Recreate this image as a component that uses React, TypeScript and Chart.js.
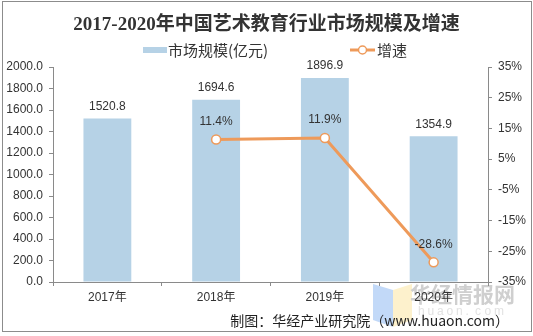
import React, { useEffect, useRef } from "react";
import { Chart, registerables } from "chart.js";

Chart.register(...registerables);

const categories = ["2017年", "2018年", "2019年", "2020年"];
const marketSize = [1520.8, 1694.6, 1896.9, 1354.9];
const growthRate: (number | null)[] = [null, 11.4, 11.9, -28.6];
const titleText = "2017-2020年中国艺术教育行业市场规模及增速";
const barLabel = "市场规模(亿元)";
const lineLabel = "增速";
const sourceText = "制图：华经产业研究院（www.huaon.com）";
const watermarkText = "华经情报网";
const watermarkUrl = "huaon.com";

const BAR_COLOR = "#b6d2e6";
const LINE_COLOR = "#ee9a5a";
const AXIS_COLOR = "#8a8a8a";
const TEXT_COLOR = "#333333";
const SANS = "'Liberation Sans', 'Noto Sans CJK SC', sans-serif";
const CJK = "'Noto Sans CJK SC', 'Liberation Sans', sans-serif";

const decorPlugin = {
  id: "decor",
  beforeDraw(chart: any) {
    const ctx = chart.ctx;
    ctx.save();
    ctx.fillStyle = "#ffffff";
    ctx.fillRect(0, 0, chart.width, chart.height);
    // watermark logo
    ctx.globalAlpha = 0.55;
    ctx.fillStyle = "#8fb9f2";
    ctx.beginPath();
    ctx.moveTo(373, 284);
    ctx.lineTo(393, 290);
    ctx.lineTo(393, 327);
    ctx.lineTo(373, 320);
    ctx.closePath();
    ctx.fill();
    ctx.fillStyle = "#fbe6a2";
    ctx.beginPath();
    ctx.moveTo(393, 290);
    ctx.lineTo(412, 284);
    ctx.lineTo(412, 320);
    ctx.lineTo(393, 327);
    ctx.closePath();
    ctx.fill();
    ctx.globalAlpha = 1;
    ctx.fillStyle = "#cfcfcf";
    ctx.font = "bold 21px " + CJK;
    ctx.textAlign = "left";
    ctx.textBaseline = "middle";
    ctx.fillText(watermarkText, 410, 294);
    ctx.fillStyle = "#e2e2e2";
    ctx.font = "12px " + SANS;
    const chars = watermarkUrl.split("");
    chars.forEach((c, i) => ctx.fillText(c, 418 + i * 9.5, 312));
    ctx.restore();
  },
  afterDatasetsDraw(chart: any) {
    const ctx = chart.ctx;
    ctx.save();
    ctx.font = "12px " + SANS;
    ctx.fillStyle = TEXT_COLOR;
    ctx.textAlign = "center";
    ctx.textBaseline = "middle";
    const barMeta = chart.getDatasetMeta(0);
    barMeta.data.forEach((el: any, i: number) => {
      ctx.fillText(marketSize[i].toFixed(1), el.x, el.y - 12);
    });
    const lineMeta = chart.getDatasetMeta(1);
    lineMeta.data.forEach((el: any, i: number) => {
      const v = growthRate[i];
      if (v === null || v === undefined) return;
      ctx.fillText(v.toFixed(1) + "%", el.x, el.y - 18);
    });
    ctx.restore();
  },
  afterDraw(chart: any) {
    const ctx = chart.ctx;
    ctx.save();
    // legend
    ctx.fillStyle = BAR_COLOR;
    ctx.fillRect(143, 47, 24, 6);
    ctx.fillStyle = TEXT_COLOR;
    ctx.font = "15px " + CJK;
    ctx.textAlign = "left";
    ctx.textBaseline = "middle";
    ctx.fillText(barLabel, 168, 50);
    ctx.strokeStyle = LINE_COLOR;
    ctx.lineWidth = 3;
    ctx.beginPath();
    ctx.moveTo(350, 50);
    ctx.lineTo(375, 50);
    ctx.stroke();
    ctx.fillStyle = "#ffffff";
    ctx.lineWidth = 1.5;
    ctx.beginPath();
    ctx.arc(362.5, 50, 4, 0, Math.PI * 2);
    ctx.fill();
    ctx.stroke();
    ctx.fillStyle = TEXT_COLOR;
    ctx.fillText(lineLabel, 377, 50);
    // source
    ctx.font = "14px " + CJK;
    ctx.fillStyle = "#222222";
    ctx.textAlign = "right";
    ctx.fillText(sourceText, 509, 321);
    // frame
    ctx.strokeStyle = "#8c8c8c";
    ctx.lineWidth = 1;
    ctx.strokeRect(2.5, 1.5, 529, 330);
    ctx.restore();
  },
};

export default function App() {
  const canvasRef = useRef<HTMLCanvasElement>(null);

  useEffect(() => {
    if (!canvasRef.current) return;
    const chart = new Chart(canvasRef.current, {
      type: "bar",
      data: {
        labels: categories,
        datasets: [
          {
            type: "bar",
            label: barLabel,
            data: marketSize,
            backgroundColor: BAR_COLOR,
            categoryPercentage: 1,
            barPercentage: 0.44,
            yAxisID: "y",
            order: 1,
          },
          {
            type: "line",
            label: lineLabel,
            data: growthRate,
            borderColor: LINE_COLOR,
            borderWidth: 3,
            pointRadius: 4.5,
            pointBackgroundColor: "#ffffff",
            pointBorderColor: LINE_COLOR,
            pointBorderWidth: 1.5,
            tension: 0,
            yAxisID: "y1",
            order: 0,
          } as any,
        ],
      },
      options: {
        responsive: false,
        animation: false,
        events: [],
        layout: { padding: 0 },
        plugins: {
          legend: { display: false },
          tooltip: { enabled: false },
          title: {
            display: true,
            text: titleText,
            color: "#333333",
            font: {
              family: "'Liberation Serif', 'Noto Sans CJK SC', serif",
              size: 19,
              weight: "bold",
              lineHeight: "24px",
            } as any,
            padding: { top: 13, bottom: 30 },
          },
        },
        scales: {
          x: {
            grid: {
              display: true,
              drawOnChartArea: false,
              drawTicks: true,
              tickLength: 4,
              color: AXIS_COLOR,
              offset: true,
            },
            border: { display: true, color: AXIS_COLOR },
            ticks: {
              color: TEXT_COLOR,
              font: { family: SANS, size: 12 },
              padding: 4,
            },
            afterFit(scale: any) {
              scale.height = 54;
            },
          },
          y: {
            position: "left",
            min: 0,
            max: 2000,
            grid: {
              drawOnChartArea: false,
              drawTicks: true,
              tickLength: 4,
              color: AXIS_COLOR,
            },
            border: { display: true, color: AXIS_COLOR },
            ticks: {
              stepSize: 200,
              color: TEXT_COLOR,
              font: { family: SANS, size: 12 },
              padding: 6,
              callback: (v: any) => Number(v).toFixed(1),
            },
            afterFit(scale: any) {
              scale.width = 53;
            },
          },
          y1: {
            position: "right",
            min: -35,
            max: 35,
            grid: {
              drawOnChartArea: false,
              drawTicks: true,
              tickLength: 4,
              color: AXIS_COLOR,
            },
            border: { display: true, color: AXIS_COLOR },
            ticks: {
              stepSize: 10,
              color: TEXT_COLOR,
              font: { family: SANS, size: 12 },
              padding: 6,
              callback: (v: any) => v + "%",
            },
            afterFit(scale: any) {
              scale.width = 45;
            },
          },
        },
      },
      plugins: [decorPlugin],
    });
    return () => chart.destroy();
  }, []);

  return (
    <div style={{ position: "fixed", left: 0, top: 0, width: 533, height: 336 }}>
      <canvas ref={canvasRef} width={533} height={336} />
    </div>
  );
}
